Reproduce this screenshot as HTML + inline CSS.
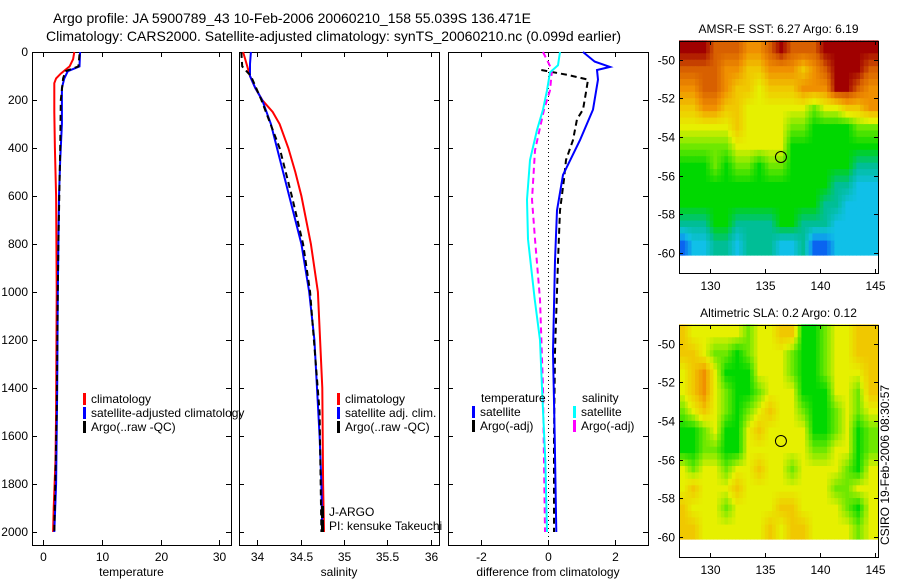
<!DOCTYPE html>
<html><head><meta charset="utf-8"><style>
body{margin:0;background:#fff}
svg{display:block;font-family:"Liberation Sans",sans-serif}
text{font-size:12px;fill:#000}
</style></head><body>
<svg id="fig" width="900" height="580" viewBox="0 0 900 580">
<text x="53" y="23" style="font-size:14px">Argo profile: JA 5900789_43 10-Feb-2006 20060210_158 55.039S 136.471E</text>
<text x="46" y="41" style="font-size:14px">Climatology: CARS2000. Satellite-adjusted climatology: synTS_20060210.nc (0.099d earlier)</text>
<text transform="translate(889,545) rotate(-90)">CSIRO 19-Feb-2006 08:30:57</text>
</svg>
<script>
// ---------- data ----------
const depthTicks=[0,200,400,600,800,1000,1200,1400,1600,1800,2000];
const tempTicks=[0,10,20,30];
const salTicks=[34,34.5,35,35.5,36];
const salTickLabels=["34","34.5","35","35.5","36"];
const diffTicks=[-2,0,2];

const tClimDepth=[0,30,60,90,110,130,250,400,600,1000,1500,1700,1900,2000];
const tClimVal=[5.3,5.1,4.5,3.0,2.2,1.9,1.9,2.0,2.2,2.3,2.2,2.1,1.8,1.7];
const tSatDepth=[0,60,80,110,150,300,450,600,1000,1400,1800,2000];
const tSatVal=[6.3,6.2,4.2,3.6,3.2,3.2,2.9,2.7,2.5,2.4,2.2,1.9];
const tArgoDepth=[10,60,80,110,200,400,800,1000,1500,2000];
const tArgoVal=[6.2,6.0,3.8,3.4,3.0,2.9,2.6,2.5,2.3,1.9];

const sClimDepth=[0,50,100,150,200,250,300,400,500,600,800,1000,1400,1800,2000];
const sClimVal=[33.84,33.88,33.92,33.98,34.06,34.18,34.26,34.36,34.44,34.51,34.62,34.70,34.75,34.76,34.77];
const sSatDepth=[0,50,100,150,200,300,400,500,600,800,1000,1200,1400,1600,1800,2000];
const sSatVal=[33.93,33.92,33.92,33.98,34.06,34.16,34.23,34.30,34.37,34.51,34.60,34.66,34.69,34.72,34.74,34.75];
const sArgoDepth=[0,60,100,200,400,600,800,1000,1500,2000];
const sArgoVal=[33.82,33.83,33.93,34.05,34.26,34.40,34.53,34.61,34.72,34.74];

const dTSatDepth=[0,40,62,75,115,240,367,512,660,870,1250,1600,2000];
const dTSatVal=[1.05,1.4,1.86,1.47,1.5,1.35,0.96,0.45,0.27,0.21,0.15,0.2,0.25];
const dTArgoDepth=[75,95,115,160,240,280,367,450,530,660,870,1250,1600,2000];
const dTArgoVal=[-0.2,0.57,1.2,1.15,1.05,0.87,0.75,0.54,0.48,0.36,0.3,0.21,0.18,0.18];
const dSSatDepth=[0,55,85,160,240,325,450,615,780,1030,1200,1400,1700,2000];
const dSSatVal=[0.36,0.3,0.06,-0.03,-0.15,-0.33,-0.54,-0.63,-0.6,-0.4,-0.24,-0.18,-0.08,-0.03];
const dSArgoDepth=[0,75,160,240,410,615,780,1030,1400,2000];
const dSArgoVal=[-0.15,0.12,0.06,-0.12,-0.39,-0.48,-0.39,-0.24,-0.15,-0.09];

const sstLons=[127.2,128,129,130,131,132,133,134,135,136,137,138,139,140,141,142,143,144,145.3];
const sstLats=[-49,-50,-51,-52,-53,-54,-55,-56,-57,-58,-59,-60.15];
const sstGrid=[
[9,9,9,8,8,8,7,7,8,9,8,8,8,9,9,9,9,9],
[8,8,8,8,7,7,6,6,7,7,7,6,7,8,9,9,9,8],
[7,7,8,8,7,6,6,5,6,6,6,7,7,7,9,9,8,7],
[6,6,7,7,6,6,5,5,5,5,5,5,4,5,5,6,6,7],
[5,5,5,5,5,6,5,5,5,5,4,4,3,3,3,3,4,4],
[4,4,4,4,4,5,5,5,5,5,3,3,3,3,3,3,3,3],
[3,3,3,4,3,4,4,3,4,4,3,3,3,3,3,3,2,2],
[3,3,3,3,3,3,3,3,3,3,3,3,3,3,2,2,1,1],
[3,3,3,3,3,3,3,3,3,3,3,3,3,2,2,1,1,1],
[2,2,2,3,3,2,2,2,2,3,3,2,2,2,1,1,1,1],
[0,1,1,2,2,1,2,2,2,1,1,2,0,0,1,1,1,1]];
const slaGrid=[
[6,5,5,5,5,5,4,5,5,6,6,3,3,4,5,5,6,6],
[6,6,5,4,4,3,4,5,5,5,4,3,3,4,5,5,6,6],
[5,6,7,5,3,3,3,5,5,5,4,3,3,4,5,5,5,6],
[5,6,7,5,4,3,3,4,5,5,5,3,3,3,5,5,4,6],
[4,5,6,5,4,3,4,5,6,5,5,4,3,3,4,5,4,5],
[3,3,4,5,3,3,5,6,5,5,5,5,3,3,4,5,3,4],
[3,3,4,4,3,3,5,5,5,5,5,5,4,4,5,5,3,4],
[5,4,5,5,4,5,5,6,5,5,4,5,5,5,5,4,3,5],
[5,6,5,5,5,6,5,5,5,5,5,5,5,5,4,4,5,5],
[6,5,5,5,4,5,5,5,5,6,6,5,5,5,5,4,3,5],
[6,6,5,5,5,5,5,5,6,5,6,6,5,5,5,5,4,5]];
const mapLonTicks=[130,135,140,145];
const mapLatTicks=[-50,-52,-54,-56,-58,-60];
const floatLon=136.471, floatLat=-55.039;
const palette=[[10,100,240],[16,192,232],[0,190,150],[0,216,0],[110,232,0],[230,240,0],[240,200,0],[240,144,0],[216,96,0],[160,0,0]];

// ---------- drawing ----------
const NS="http://www.w3.org/2000/svg";
const svg=document.getElementById('fig');
function el(tag,attrs,parent){const e=document.createElementNS(NS,tag);for(const k in attrs)e.setAttribute(k,attrs[k]);(parent||svg).appendChild(e);return e;}
const yTop=52, pxPerM=0.24, axBottom=545;
const yD=d=>yTop+d*pxPerM;

function panel(name,x0,x1,xmin,xmax,ticks,labels,xlabel,showY){
  const g=el('g',{});
  
  
  const sx=v=>x0+(v-xmin)/(xmax-xmin)*(x1-x0);
  const fr=el('rect',{x:x0+0.5,y:yTop+0.5,width:x1-x0,height:axBottom-yTop,fill:'none',stroke:'#000','stroke-width':1},g);
  
  
  depthTicks.forEach(d=>{
    el('line',{x1:x0,x2:x0+5,y1:yD(d)+0.5,y2:yD(d)+0.5,stroke:'#000'},g);
    el('line',{x1:x1-5,x2:x1,y1:yD(d)+0.5,y2:yD(d)+0.5,stroke:'#000'},g);
    if(showY){const t=el('text',{x:x0-4,y:yD(d)+4,'text-anchor':'end'},g);t.textContent=d;
      
      }
  });
  ticks.forEach((v,i)=>{
    const x=Math.round(sx(v))+0.5;
    el('line',{x1:x,x2:x,y1:axBottom,y2:axBottom-5,stroke:'#000'},g);
    el('line',{x1:x,x2:x,y1:yTop,y2:yTop+5,stroke:'#000'},g);
    const t=el('text',{x:x,y:561,'text-anchor':'middle'},g);t.textContent=labels[i];
    
    
  });
  const xl=el('text',{x:(x0+x1)/2,y:576,'text-anchor':'middle'},g);xl.textContent=xlabel;
  
  
  return {g,sx};
}
function series(p,depths,vals,color,dash,nm){
  const pts=depths.map((d,i)=>p.sx(vals[i]).toFixed(1)+','+yD(d).toFixed(1)).join(' ');
  const l=el('polyline',{points:pts,fill:'none',stroke:color,'stroke-width':2,'stroke-dasharray':dash||'none'},p.g);
  
  
}
function legend(g,x,y,items){
  items.forEach((it,i)=>{
    el('rect',{x:x,y:y+i*14-10,width:3,height:12,fill:it[0]},g);
    const t=el('text',{x:x+8,y:y+i*14},g);t.textContent=it[1];
    
    
  });
}
const pT=panel('temperature',32,231,-1.9,32,tempTicks,tempTicks.map(String),'temperature',true);
series(pT,tClimDepth,tClimVal,'#f00',null,'temp-climatology-line');
series(pT,tSatDepth,tSatVal,'#00f',null,'temp-satellite-line');
series(pT,tArgoDepth,tArgoVal,'#000','6,4','temp-argo-line');
legend(pT.g,83,403,[['#f00','climatology'],['#00f','satellite-adjusted climatology'],['#000','Argo(..raw -QC)']]);
const pS=panel('salinity',239,439,33.793,36.092,salTicks,salTickLabels,'salinity',false);
series(pS,sClimDepth,sClimVal,'#f00',null,'sal-climatology-line');
series(pS,sSatDepth,sSatVal,'#00f',null,'sal-satellite-line');
series(pS,sArgoDepth,sArgoVal,'#000','6,4','sal-argo-line');
legend(pS.g,337,403,[['#f00','climatology'],['#00f','satellite adj. clim.'],['#000','Argo(..raw -QC)']]);
legend(pS.g,321,516,[['#000','J-ARGO'],['#000','PI: kensuke Takeuchi']]);
const pD=panel('difference',448,648,-3,3,diffTicks,diffTicks.map(String),'difference from climatology',false);
el('line',{x1:pD.sx(0)+0.5,x2:pD.sx(0)+0.5,y1:yTop,y2:axBottom,stroke:'#000','stroke-dasharray':'1,3'},pD.g);
series(pD,dTArgoDepth,dTArgoVal,'#000','6,4','diff-temp-argo-line');
series(pD,dTSatDepth,dTSatVal,'#00f',null,'diff-temp-satellite-line');
series(pD,dSArgoDepth,dSArgoVal,'#f0f','6,4','diff-sal-argo-line');
series(pD,dSSatDepth,dSSatVal,'#0ff',null,'diff-sal-satellite-line');
{const t=el('text',{x:481,y:402},pD.g);t.textContent='temperature';}
{const t=el('text',{x:582,y:402},pD.g);t.textContent='salinity';}
legend(pD.g,472,416,[['#00f','satellite'],['#000','Argo(-adj)']]);
legend(pD.g,573,416,[['#0ff','satellite'],['#f0f','Argo(-adj)']]);

function colorOf(v){
  v=Math.max(0,Math.min(9,v));const i=Math.min(8,Math.floor(v)),f=v-i;
  const a=palette[i],b=palette[i+1];
  return 'rgb('+a.map((c,k)=>Math.round(c+(b[k]-c)*f)).join(',')+')';
}
function sample(grid,fr,fc){
  const R=grid.length,C=grid[0].length;
  fr=Math.max(0,Math.min(R-1,fr));fc=Math.max(0,Math.min(C-1,fc));
  const r0=Math.floor(fr),c0=Math.floor(fc),r1=Math.min(R-1,r0+1),c1=Math.min(C-1,c0+1);
  const tr=fr-r0,tc=fc-c0;
  const top=grid[r0][c0]*(1-tc)+grid[r0][c1]*tc, bot=grid[r1][c0]*(1-tc)+grid[r1][c1]*tc;
  return top*(1-tr)+bot*tr;
}
function map(name,top,grid,title){
  const x0=679,x1=878,bottom=top+232,dataBottom=top+214;
  const lonMin=127.2,lonMax=145.3,latTop=-49.03;
  const pxDeg=19.3;
  const sx=v=>x0+(v-lonMin)/(lonMax-lonMin)*(x1-x0);
  const sy=v=>top+(latTop-v)*pxDeg;
  const g=el('g',{});
  
  
  const SUB=3;
  grid.forEach((row,r)=>row.forEach((v,c)=>{
    const ya=sy(sstLats[r]), yb=Math.min(sy(sstLats[r+1]),dataBottom);
    const xa=sx(sstLons[c]), xb=sx(sstLons[c+1]);
    for(let i=0;i<SUB;i++)for(let j=0;j<SUB;j++){
      const fr=r+(i+0.5)/SUB-0.5, fc=c+(j+0.5)/SUB-0.5;
      const val=sample(grid,fr,fc);
      const ca=ya+(yb-ya)*i/SUB, cb=ya+(yb-ya)*(i+1)/SUB;
      const da=xa+(xb-xa)*j/SUB, db=xa+(xb-xa)*(j+1)/SUB;
      const cell=el('rect',{x:da.toFixed(1),y:ca.toFixed(1),width:(db-da+0.6).toFixed(1),height:(cb-ca+0.6).toFixed(1),fill:colorOf(val)},g);
      
      
    }
  }));
  el('rect',{x:x0+0.5,y:top+0.5,width:x1-x0,height:bottom-top,fill:'none',stroke:'#000'},g);
  mapLatTicks.forEach(v=>{const y=Math.round(sy(v))+0.5;
    el('line',{x1:x0,x2:x0+4,y1:y,y2:y,stroke:'#000'},g);el('line',{x1:x1-4,x2:x1,y1:y,y2:y,stroke:'#000'},g);
    const t=el('text',{x:x0-4,y:y+4,'text-anchor':'end'},g);t.textContent=v;
    
    });
  mapLonTicks.forEach(v=>{const x=Math.round(sx(v))+0.5;
    el('line',{x1:x,x2:x,y1:top,y2:top+4,stroke:'#000'},g);el('line',{x1:x,x2:x,y1:bottom,y2:bottom-4,stroke:'#000'},g);
    const t=el('text',{x:x,y:bottom+17,'text-anchor':'middle'},g);t.textContent=v;
    
    });
  const c=el('circle',{cx:sx(floatLon),cy:sy(floatLat),r:5.5,fill:'none',stroke:'#000'},g);
  
  
  const t=el('text',{x:(x0+x1)/2,y:top-8,'text-anchor':'middle'},g);t.textContent=title;
  
  
}
map('sst',41,sstGrid,'AMSR-E SST: 6.27 Argo: 6.19');
map('sla',325,slaGrid,'Altimetric SLA: 0.2 Argo: 0.12');
</script>
</body></html>
